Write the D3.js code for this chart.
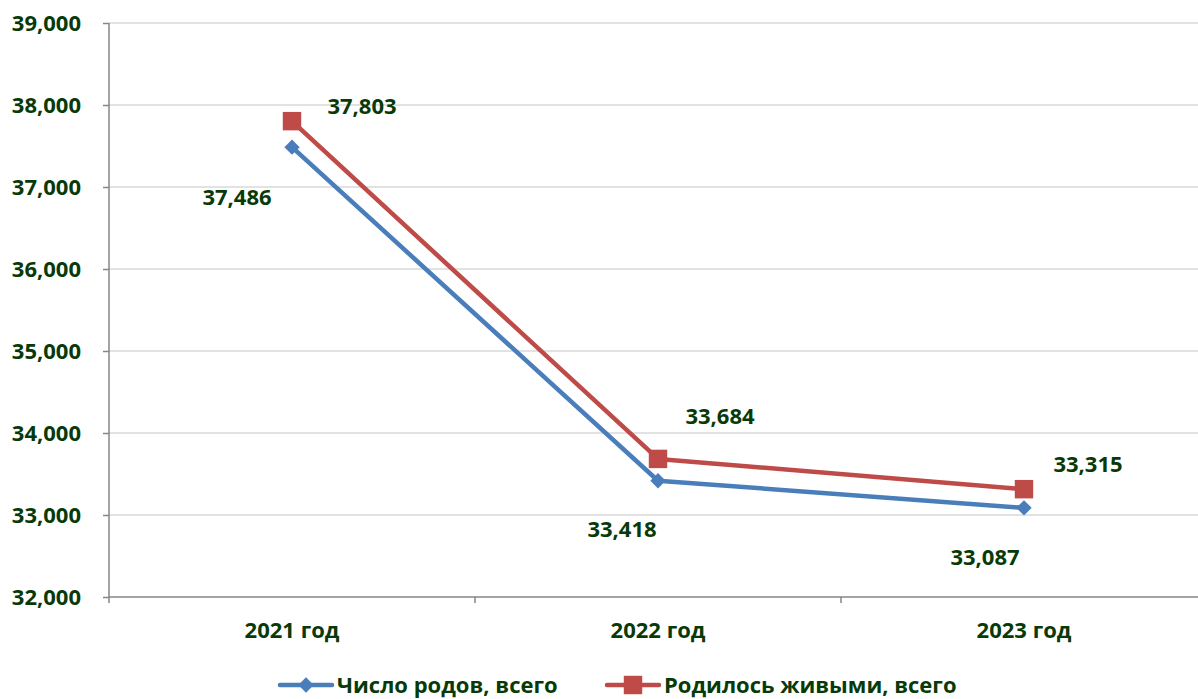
<!DOCTYPE html>
<html><head><meta charset="utf-8">
<script src="https://cdn.jsdelivr.net/npm/d3@7"></script>
<style>body{margin:0;background:#fff}svg{display:block}text{font-family:"Open Sans","Noto Sans",sans-serif;font-weight:bold;fill:#083a08}</style>
</head><body><svg id="c" width="1198" height="699"></svg>
<script>
const categories = ["2021 год", "2022 год", "2023 год"];
const seriesNames = ["Число родов, всего", "Родилось живыми, всего"];
const births = [37486, 33418, 33087];
const liveBorn = [37803, 33684, 33315];
const yTicks = [32000, 33000, 34000, 35000, 36000, 37000, 38000, 39000];
const colors = ["#4a7ebb", "#be4b48"];
// label offsets (layout)
const labelOffsets = [
  [[-55, 50], [-36, 49], [-39, 49]],
  [[70, -15], [62, -43], [64, -25]]
];

const svg = d3.select("#c");
const x = d3.scaleBand().domain(categories).range([109, 1207]);
const y = d3.scaleLinear().domain([32000, 39000]).range([597, 23]);
const cx = d => x(d) + x.bandwidth() / 2;
const fs = "22px";

// gridlines
svg.append("g").selectAll("line").data(yTicks.slice(1)).join("line")
  .attr("x1", 109).attr("x2", 1198).attr("y1", d => y(d)).attr("y2", d => y(d))
  .attr("stroke", "#d9d9d9").attr("stroke-width", 1.5);

// y axis
const ya = svg.append("g").attr("transform", "translate(109,0)")
  .call(d3.axisLeft(y).tickValues(yTicks).tickSize(6).tickPadding(22).tickFormat(d3.format(",")));
ya.select(".domain").attr("stroke", "#868686").attr("stroke-width", 1.5).attr("d", "M0,23V603");
ya.selectAll(".tick line").attr("stroke", "#868686").attr("stroke-width", 1.5);
ya.selectAll(".tick text").style("font-size", fs).attr("dy", "0.35em");

// x axis
const xa = svg.append("g").attr("transform", "translate(0,597)")
  .call(d3.axisBottom(x).tickSize(0).tickPadding(25));
xa.select(".domain").remove();
xa.selectAll(".tick text").style("font-size", fs);
svg.append("line").attr("x1", 109).attr("x2", 1198).attr("y1", 597).attr("y2", 597)
  .attr("stroke", "#868686").attr("stroke-width", 1.5);
svg.append("g").selectAll("line").data(categories.slice(1)).join("line")
  .attr("x1", d => x(d)).attr("x2", d => x(d)).attr("y1", 597).attr("y2", 603)
  .attr("stroke", "#868686").attr("stroke-width", 1.5);

const allSeries = [births, liveBorn];
const line = d3.line().x((d, i) => cx(categories[i])).y(d => y(d));
const diamond = d3.symbol().type(d3.symbolDiamond2).size(150);
const square = d3.symbol().type(d3.symbolSquare).size(340);

allSeries.forEach((vals, s) => {
  const g = svg.append("g");
  g.append("path").attr("d", line(vals)).attr("fill", "none")
    .attr("stroke", colors[s]).attr("stroke-width", 4.5).attr("stroke-linejoin", "round");
  g.selectAll("path.m").data(vals).join("path").attr("class", "m")
    .attr("transform", (d, i) => `translate(${cx(categories[i])},${y(d)})`)
    .attr("d", s === 0 ? diamond() : square()).attr("fill", colors[s]);
  g.selectAll("text").data(vals).join("text")
    .attr("x", (d, i) => cx(categories[i]) + labelOffsets[s][i][0])
    .attr("y", (d, i) => y(d) + labelOffsets[s][i][1])
    .attr("text-anchor", "middle").attr("dy", "0.35em")
    .style("font-size", fs).text(d => d3.format(",")(d));
});

// legend
const legendX = [280, 607];
seriesNames.forEach((n, s) => {
  const g = svg.append("g").attr("transform", `translate(${legendX[s]},685)`);
  g.append("line").attr("x1", 0).attr("x2", 52).attr("stroke", colors[s]).attr("stroke-width", 4.5).attr("stroke-linecap", "round");
  g.append("path").attr("transform", "translate(26,0)").attr("d", s === 0 ? diamond() : square()).attr("fill", colors[s]);
  g.append("text").attr("x", 57).attr("dy", "0.35em").style("font-size", fs).text(n);
});
</script></body></html>
